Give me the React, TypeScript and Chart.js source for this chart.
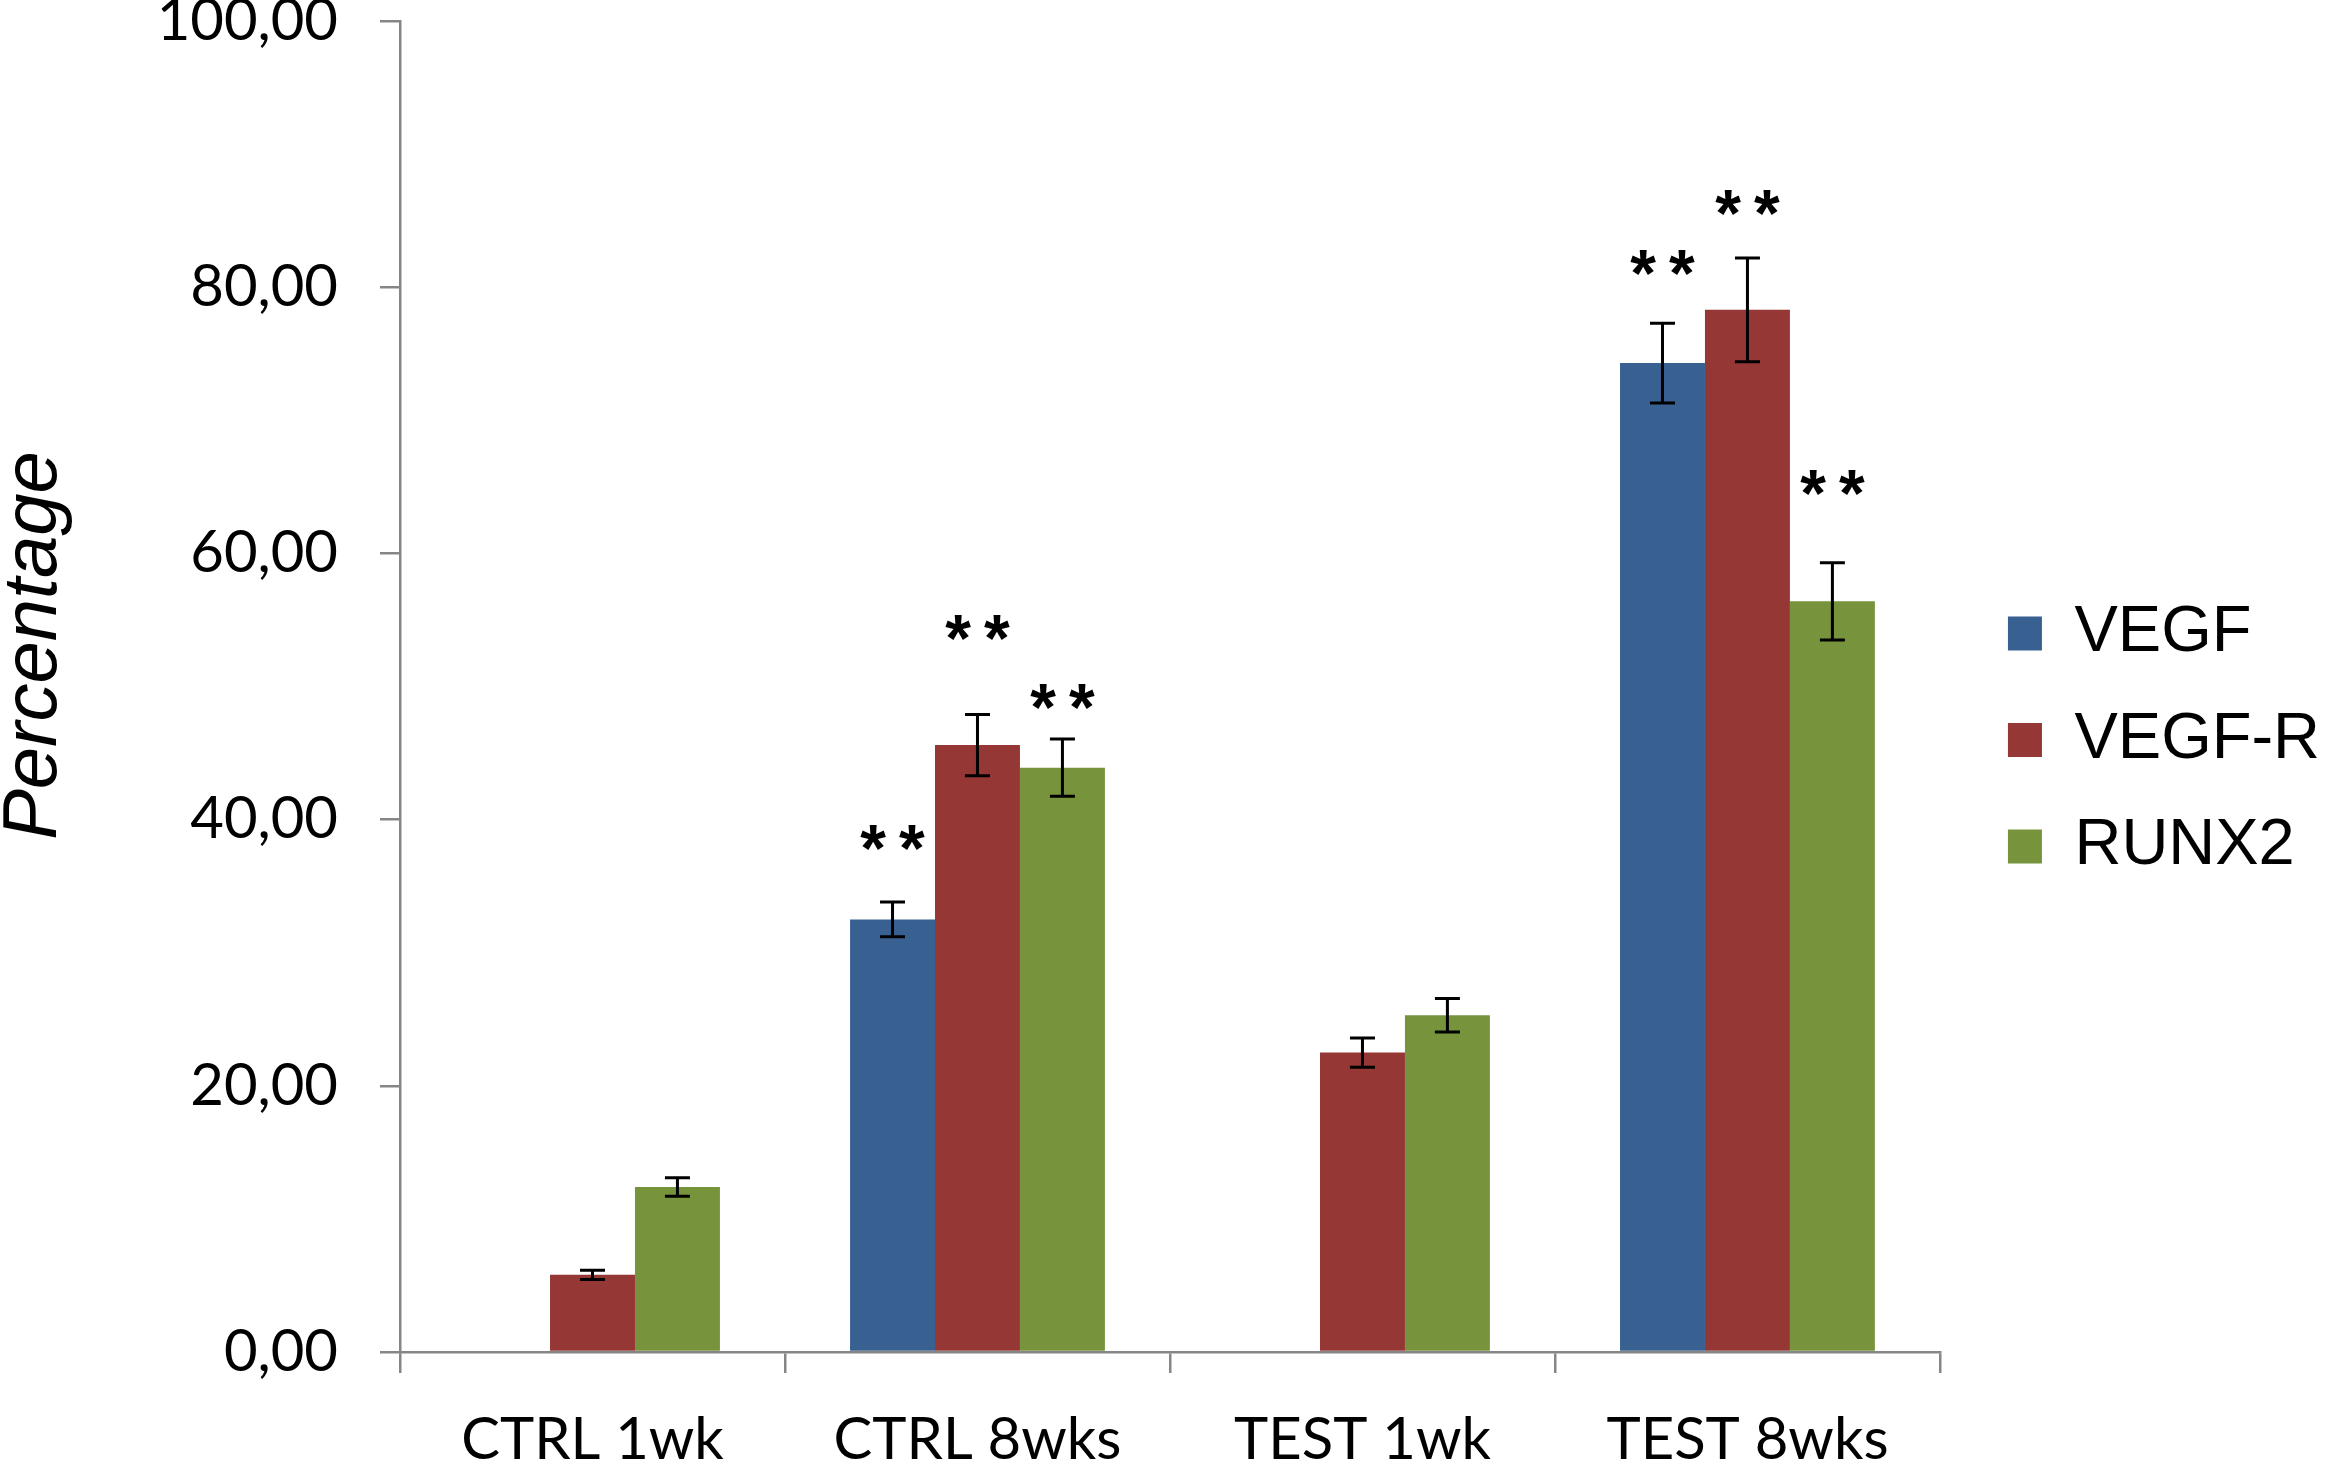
import React, { useEffect, useRef } from 'react';
import { Chart, registerables, Plugin } from 'chart.js';

Chart.register(...registerables);

// --- data ---
const categories = ['CTRL 1wk', 'CTRL 8wks', 'TEST 1wk', 'TEST 8wks'];
const seriesNames = ['VEGF', 'VEGF-R', 'RUNX2'];
const seriesColors = ['#386192', '#953735', '#77933C'];

const vegf = [0, 32.5, 0, 74.3];
const vegfR = [5.8, 45.6, 22.5, 78.3];
const runx2 = [12.4, 43.9, 25.3, 56.4];

// +/- error for each bar
const vegfErr = [0, 1.3, 0, 3.0];
const vegfRErr = [0.35, 2.3, 1.1, 3.9];
const runx2Err = [0.7, 2.15, 1.25, 2.9];

// level (axis units) of the "**" significance marks, null = none
const vegfStars = [null, 38.6, null, 81.8];
const vegfRStars = [null, 54.4, null, 86.3];
const runx2Stars = [null, 49.2, null, 65.3];

const yTicks = [0, 20, 40, 60, 80, 100];
const yTitle = 'Percentage';
const starText = '**';

const seriesValues = [vegf, vegfR, runx2];
const seriesErrors = [vegfErr, vegfRErr, runx2Err];
const seriesStars = [vegfStars, vegfRStars, runx2Stars];

const AXIS_GREY = '#868686';
const TICK_FONT = { family: 'Lato, "Open Sans", sans-serif', size: 58 };

// error bars with caps
const errorBars: Plugin<'bar'> = {
  id: 'errorBars',
  afterDatasetsDraw(chart) {
    const { ctx } = chart;
    const y = chart.scales.y;
    ctx.save();
    ctx.strokeStyle = '#000';
    ctx.lineWidth = 3;
    chart.data.datasets.forEach((ds, i) => {
      const errs = seriesErrors[i];
      chart.getDatasetMeta(i).data.forEach((bar, j) => {
        const v = ds.data[j] as number;
        const e = errs[j];
        if (!e) return;
        const top = y.getPixelForValue(v + e);
        const bot = y.getPixelForValue(v - e);
        const cap = 12.5;
        ctx.beginPath();
        ctx.moveTo(bar.x, top);
        ctx.lineTo(bar.x, bot);
        ctx.moveTo(bar.x - cap, top);
        ctx.lineTo(bar.x + cap, top);
        ctx.moveTo(bar.x - cap, bot);
        ctx.lineTo(bar.x + cap, bot);
        ctx.stroke();
      });
    });
    ctx.restore();
  },
};

// "**" marks above bars
const starMarks: Plugin<'bar'> = {
  id: 'starMarks',
  afterDatasetsDraw(chart) {
    const { ctx } = chart;
    const y = chart.scales.y;
    const spacing = 13;
    ctx.save();
    ctx.fillStyle = '#000';
    ctx.font = 'bold 66px "Liberation Sans", Arial, sans-serif';
    (ctx as any).letterSpacing = spacing + 'px';
    ctx.textAlign = 'center';
    ctx.textBaseline = 'alphabetic';
    chart.data.datasets.forEach((_, i) => {
      const stars = seriesStars[i];
      chart.getDatasetMeta(i).data.forEach((bar, j) => {
        const lvl = stars[j];
        if (lvl == null) return;
        // letterSpacing adds a trailing gap, so nudge right by half of it
        ctx.fillText(starText, bar.x + spacing / 2, y.getPixelForValue(lvl) + 33);
      });
    });
    ctx.restore();
  },
};

// rotated italic y title, sitting a bit above the axis middle like the original
const yAxisTitle: Plugin<'bar'> = {
  id: 'yAxisTitle',
  afterDraw(chart) {
    const { ctx, chartArea } = chart;
    const cy = (chartArea.top + chartArea.bottom) / 2 - 41;
    ctx.save();
    ctx.translate(chart.scales.y.left + 56, cy);
    ctx.rotate(-Math.PI / 2);
    ctx.fillStyle = '#000';
    ctx.font = 'italic 76px "Liberation Sans", Arial, sans-serif';
    ctx.textAlign = 'center';
    ctx.textBaseline = 'alphabetic';
    ctx.fillText(yTitle, 0, 0);
    ctx.restore();
  },
};

const GroupedBarChart: React.FC = () => {
  const canvasRef = useRef<HTMLCanvasElement>(null);

  useEffect(() => {
    const ctx = canvasRef.current!.getContext('2d');
    const chart = new Chart(ctx!, {
      type: 'bar',
      data: {
        labels: categories,
        datasets: seriesNames.map((name, i) => ({
          label: name,
          data: seriesValues[i],
          backgroundColor: seriesColors[i],
          borderWidth: 0,
          barPercentage: 1,
          categoryPercentage: 0.662,
        })),
      },
      options: {
        responsive: false,
        animation: false,
        devicePixelRatio: 1,
        layout: { padding: { top: 21, right: 0, bottom: 0, left: 0 } },
        plugins: {
          tooltip: { enabled: false },
          legend: {
            position: 'right',
            align: 'start',
            // empty title used only as a spacer above the items
            title: { display: true, text: '', padding: { top: 511, bottom: 0 }, font: { size: 1, lineHeight: 1 } },
            labels: {
              color: '#000',
              boxWidth: 34,
              boxHeight: 34,
              padding: 68,
              font: { family: '"Liberation Sans", Arial, sans-serif', size: 65, lineHeight: 0.592 },
              // array text lets the row spacing follow font.lineHeight
              generateLabels: (c: Chart) =>
                Chart.defaults.plugins.legend.labels
                  .generateLabels(c)
                  .map((l: any) => ({ ...l, text: [l.text] })),
            },
          },
        },
        scales: {
          x: {
            grid: {
              display: true,
              drawOnChartArea: false,
              drawTicks: true,
              tickLength: 21,
              color: AXIS_GREY,
              lineWidth: 2.5,
            },
            border: { display: true, color: AXIS_GREY, width: 2.5 },
            ticks: {
              color: '#000',
              padding: 32,
              font: TICK_FONT,
            },
            afterFit: (s: any) => {
              s.height = 113;
            },
          },
          y: {
            min: 0,
            max: 100,
            grid: {
              display: true,
              drawOnChartArea: false,
              drawTicks: true,
              tickLength: 20,
              color: AXIS_GREY,
              lineWidth: 2.5,
            },
            border: { display: true, color: AXIS_GREY, width: 2.5 },
            afterBuildTicks: (s: any) => {
              s.ticks = yTicks.map((v) => ({ value: v }));
            },
            ticks: {
              color: '#000',
              padding: 42,
              font: TICK_FONT,
              callback: (v: any) => Number(v).toFixed(2).replace('.', ','),
            },
            afterFit: (s: any) => {
              s.width = 400;
              s.paddingTop = 0;
            },
          },
        },
      },
      plugins: [errorBars, starMarks, yAxisTitle],
    });

    return () => {
      chart.destroy();
    };
  }, []);

  return (
    <canvas
      ref={canvasRef}
      width={2330}
      height={1465}
      style={{ position: 'absolute', left: 0, top: 0, background: '#fff' }}
    />
  );
};

export default function App() {
  return <GroupedBarChart />;
}
